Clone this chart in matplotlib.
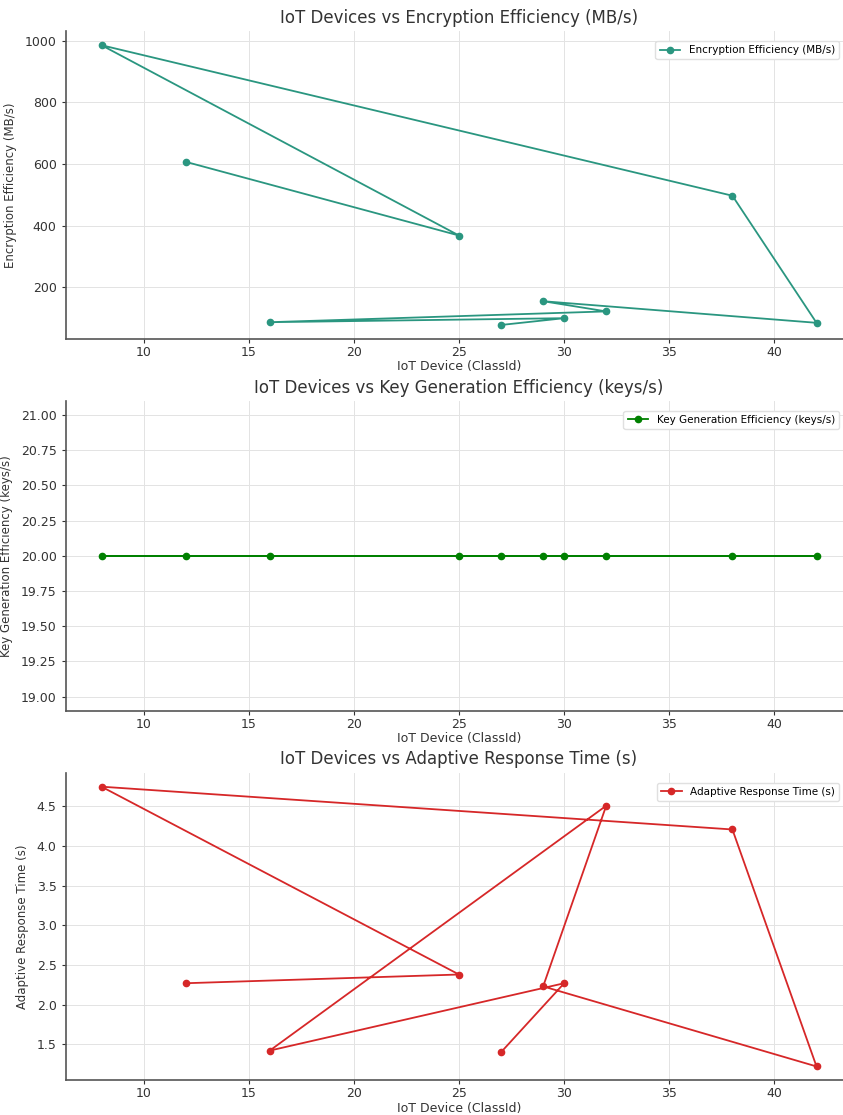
import matplotlib
matplotlib.use('Agg')
import matplotlib.pyplot as plt

# data (order as in the source table)
class_ids = [12, 25, 8, 38, 42, 29, 32, 16, 30, 27]
encryption = [607, 368, 985, 497, 85, 155, 122, 87, 100, 78]
keygen = [20, 20, 20, 20, 20, 20, 20, 20, 20, 20]
response = [2.27, 2.38, 4.75, 4.21, 1.22, 2.23, 4.51, 1.42, 2.27, 1.40]

titles = ['IoT Devices vs Encryption Efficiency (MB/s)',
          'IoT Devices vs Key Generation Efficiency (keys/s)',
          'IoT Devices vs Adaptive Response Time (s)']
labels = ['Encryption Efficiency (MB/s)',
          'Key Generation Efficiency (keys/s)',
          'Adaptive Response Time (s)']
colors = ['#2a9680', 'green', '#d62728']
series = [encryption, keygen, response]

fig = plt.figure(figsize=(8.43, 11.15), dpi=100)
# axes reach a little past the right edge, like the cropped original
positions = [[0.078, 0.696, 0.933, 0.276],
             [0.078, 0.3625, 0.933, 0.278],
             [0.078, 0.0310, 0.933, 0.276]]

for pos, y, title, lab, col in zip(positions, series, titles, labels, colors):
    ax = fig.add_axes(pos)
    ax.plot(class_ids, y, marker='o', markersize=4.5, linewidth=1.3, color=col, label=lab)
    ax.set_title(title, fontsize=12, color='#333333')
    ax.set_xlabel('IoT Device (ClassId)', fontsize=9, color='#333333', labelpad=1)
    ax.set_ylabel(lab, fontsize=8.5, color='#333333', labelpad=6)
    ax.grid(True, color='#e3e3e3', linewidth=0.7)
    ax.set_axisbelow(True)
    for s in ['top', 'right']:
        ax.spines[s].set_visible(False)
    for s in ['left', 'bottom']:
        ax.spines[s].set_color('#555555')
        ax.spines[s].set_linewidth(1.2)
    ax.tick_params(labelsize=9, colors='#333333', length=3, width=0.8)
    ax.tick_params(axis='x', pad=2)
    ax.legend(loc='upper right', fontsize=7.5, frameon=True, edgecolor='#e0e0e0',
              framealpha=1, bbox_to_anchor=(0.99, 0.985))

plt.savefig('out.png', dpi=100)
